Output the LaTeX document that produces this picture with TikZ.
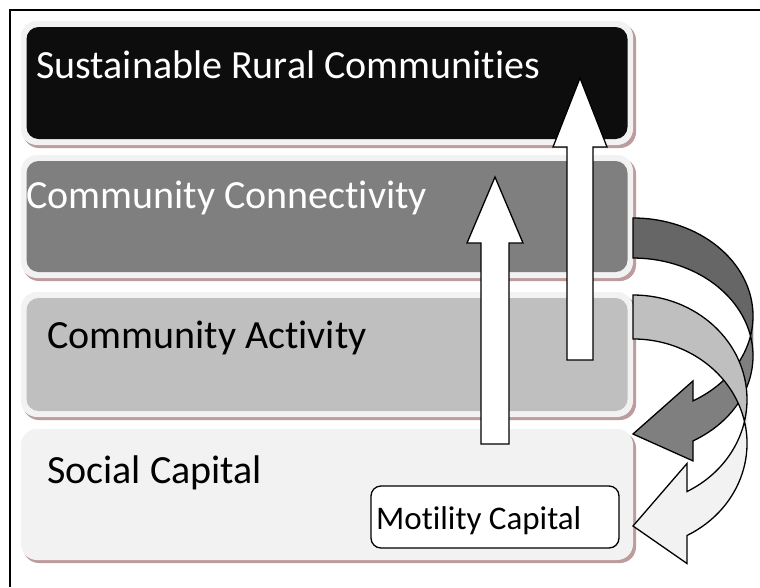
\documentclass[tikz,border=0pt]{standalone}
\usepackage{fontspec}
\setmainfont{Carlito}[Ligatures={NoCommon,NoContextual}]
\definecolor{rimcol}{RGB}{242,242,242}
\definecolor{shadowcol}{RGB}{188,156,156}
\definecolor{boxA}{RGB}{13,13,13}
\definecolor{boxB}{RGB}{127,127,127}
\definecolor{boxC}{RGB}{191,191,191}
\definecolor{boxD}{RGB}{242,242,242}
\definecolor{darktail}{RGB}{102,102,102}
\definecolor{darkhead}{RGB}{127,127,127}
\definecolor{lighttail}{RGB}{191,191,191}
\definecolor{lighthead}{RGB}{242,242,242}
\newcommand\mylayer[4]{%
  \fill[shadowcol, rounded corners=16pt] (23,#2+3) rectangle (636,#3+3);
  \fill[rimcol, rounded corners=16pt] (21,#2) rectangle (633,#3);
  \node[layerbox, fill=#4, minimum width=601pt, minimum height=#3-#2-12] (#1) at (327,{(#2+#3)/2}) {};
}
\begin{document}
\begin{tikzpicture}[x=1pt,y=-1pt,
  layerbox/.style={draw=none, inner sep=0pt, outer sep=0pt, rounded corners=12pt},
  bigtext/.style={anchor=base west, inner sep=0pt, font=\fontsize{40}{48}\selectfont},
  uparrow/.style={fill=white, draw=black, line width=1.3pt, line join=miter},
  curveout/.style={draw=black, line width=1.3pt, line join=miter},
  motbox/.style={draw=black, fill=white, line width=1.3pt, rounded corners=10pt, inner sep=0pt, minimum width=248pt, minimum height=62pt}
]
\useasboundingbox (0,0) rectangle (760,587);
\fill[white] (0,0) rectangle (760,587);
\coordinate (frameBL) at (10,587);
\coordinate (frameTL) at (10,10);
\coordinate (frameTR) at (760,10);
\draw[line width=2pt] (frameBL) -- (frameTL) -- (frameTR);

% layers
\mylayer{L1}{21}{145}{boxA}
\mylayer{L2}{155}{278}{boxB}
\mylayer{L3}{292}{417}{boxC}
\mylayer{L4}{429}{560}{boxD}

\node[bigtext, text=white] (t1) at (36,78) {Sustainable Rural Communities};
\node[bigtext, text=white] (t2) at (26,208) {Community Connectivity};
\node[bigtext, text=black] (t3) at (47,348) {Community Activity};
\node[bigtext, text=black] (t4) at (47,483) {Social Capital};

\node[motbox] (mot) at (495,517) {};
\node[anchor=base west, inner sep=0pt, font=\fontsize{33}{40}\selectfont] (motT) at (376,529) {Motility Capital};

% up arrows
\draw[uparrow] (567,360) -- (567,147) -- (553,147) -- (580,78) -- (607,147) -- (593,147) -- (593,360) -- cycle;
\draw[uparrow] (481,444) -- (481,243) -- (467,243) -- (495,177) -- (523,243) -- (509,243) -- (509,444) -- cycle;

% dark curved arrow: centres (633,316),(633,356), rx 120, ry 98
\fill[darktail] (633,218) arc[start angle=-90, end angle=0, x radius=120, y radius=98]
   -- (753,356) arc[start angle=0, end angle=-90, x radius=120, y radius=98] -- cycle;
\fill[darkhead] (753,316) arc[start angle=0, end angle=60, x radius=120, y radius=98]
   -- (693,380.9) -- (633,434) -- (693,460.9) -- (693,440.9)
   arc[start angle=60, end angle=0, x radius=120, y radius=98] -- cycle;
\draw[curveout] (633,218) arc[start angle=-90, end angle=60, x radius=120, y radius=98]
   -- (693,380.9) -- (633,434) -- (693,460.9) -- (693,440.9)
   arc[start angle=60, end angle=-90, x radius=120, y radius=98] -- cycle;

% light curved arrow: centres (633,399.5),(633,443.5), rx 114, ry 104.5
\fill[lighttail] (633,295) arc[start angle=-90, end angle=0, x radius=114, y radius=104.5]
   -- (747,443.5) arc[start angle=0, end angle=-90, x radius=114, y radius=104.5] -- cycle;
\fill[lighthead] (747,399.5) arc[start angle=0, end angle=61.73, x radius=114, y radius=104.5]
   -- (687,463.5) -- (633,526) -- (687,563.5) -- (687,535.5)
   arc[start angle=61.73, end angle=0, x radius=114, y radius=104.5] -- cycle;
\draw[curveout] (633,295) arc[start angle=-90, end angle=61.73, x radius=114, y radius=104.5]
   -- (687,463.5) -- (633,526) -- (687,563.5) -- (687,535.5)
   arc[start angle=61.73, end angle=-90, x radius=114, y radius=104.5] -- cycle;
\end{tikzpicture}
\end{document}
